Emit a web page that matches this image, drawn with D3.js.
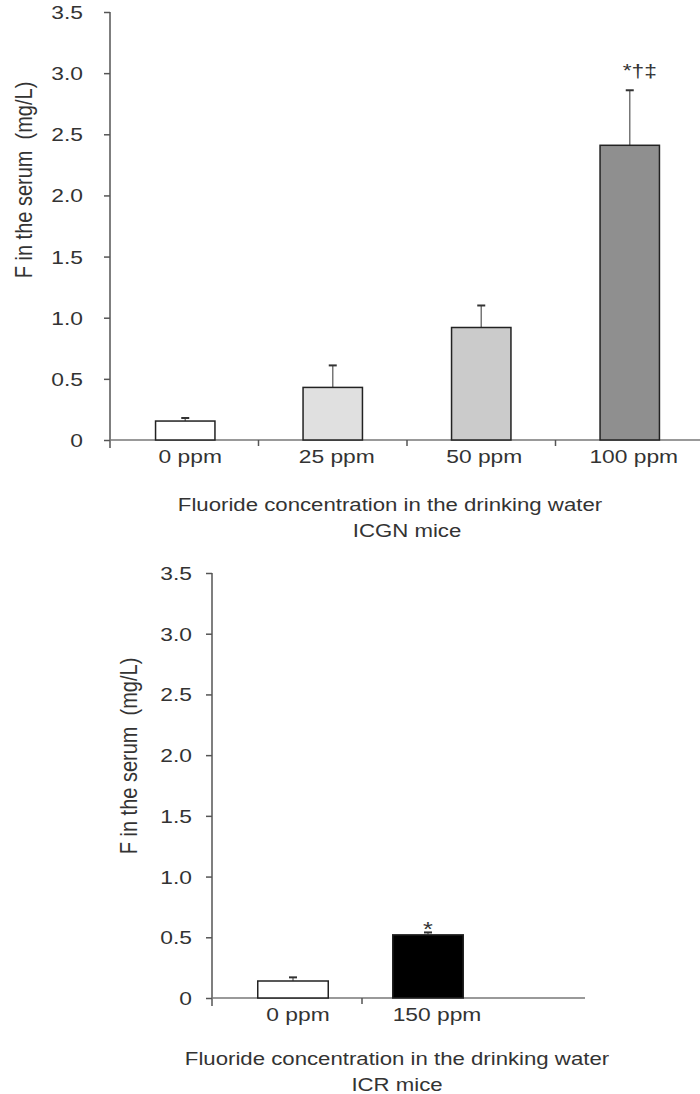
<!DOCTYPE html>
<html>
<head>
<meta charset="utf-8">
<script src="https://cdn.jsdelivr.net/npm/d3@7"></script>
<style>
  body { margin: 0; background: #fff; }
  svg text { font-family: "Liberation Sans", Arial, sans-serif; fill: #333; }
</style>
</head>
<body>
<div id="chart"></div>
<script>
// ICGN mice (top panel)
var icgnDoses = ["0 ppm", "25 ppm", "50 ppm", "100 ppm"];
var icgnMeans = [0.155, 0.43, 0.92, 2.41];
var icgnErrors = [0.025, 0.18, 0.18, 0.45];
var icgnMarks = ["", "", "", "*†‡"];
var icgnFills = ["#ffffff", "#e0e0e0", "#cbcbcb", "#8f8f8f"];

// ICR mice (bottom panel)
var icrDoses = ["0 ppm", "150 ppm"];
var icrMeans = [0.14, 0.52];
var icrErrors = [0.03, 0.02];
var icrMarks = ["", "*"];
var icrFills = ["#ffffff", "#000000"];

var yTicks = [0, 0.5, 1.0, 1.5, 2.0, 2.5, 3.0, 3.5];
var yTitle = "F in the serum  (mg/L)";
var xTitle = "Fluoride concentration in the drinking water";

var SX = 1.2; // the figure is a bit wider than tall, glyphs look stretched

var svg = d3.select("#chart").append("svg")
  .attr("width", 700)
  .attr("height", 1094);

// horizontal text, stretched like the source picture
function label(g, x, y, txt, size, anchor) {
  return g.append("text")
    .attr("transform", "translate(" + x + "," + y + ") scale(" + SX + ",1)")
    .attr("text-anchor", anchor || "middle")
    .style("font-size", size + "px")
    .text(txt);
}

function drawPanel(p) {
  var g = svg.append("g");

  var x = d3.scaleBand().domain(p.cats).range([p.x0, p.x0 + p.band * p.cats.length]);
  var y = d3.scaleLinear().domain([0, 3.5]).range([p.y0, p.y1]);
  var barW = x.bandwidth() * p.barFrac;
  var cx = function(d, i) { return x(d) + x.bandwidth() / 2 + p.barShift[i]; };

  // y axis (ticks only, labels drawn by hand so they can be stretched)
  var yAxis = g.append("g")
    .attr("transform", "translate(" + p.x0 + ",0)")
    .call(d3.axisLeft(y).tickValues(yTicks).tickSize(6).tickFormat(""));
  yAxis.select(".domain").remove();
  yAxis.selectAll(".tick line").attr("stroke", "#555").attr("stroke-width", 1.5);
  yTicks.forEach(function(t) {
    label(g, p.x0 - p.tickPad, y(t) + 7, t === 0 ? "0" : d3.format(".1f")(t), 19, "end");
  });
  g.append("line")
    .attr("x1", p.x0).attr("x2", p.x0)
    .attr("y1", y(3.5)).attr("y2", p.y0 + 8)
    .attr("stroke", "#555").attr("stroke-width", 1.5);

  // x axis line
  g.append("line")
    .attr("x1", p.x0).attr("x2", p.xEnd)
    .attr("y1", p.y0).attr("y2", p.y0)
    .attr("stroke", "#777").attr("stroke-width", 1.5);

  // separators between categories
  g.selectAll(".sep")
    .data(p.cats.slice(1))
    .enter().append("line")
    .attr("x1", function(d) { return x(d); })
    .attr("x2", function(d) { return x(d); })
    .attr("y1", p.y0).attr("y2", p.y0 + 6)
    .attr("stroke", "#555").attr("stroke-width", 1.5);

  // error bars
  g.selectAll(".err")
    .data(p.cats)
    .enter().append("line")
    .attr("x1", cx).attr("x2", cx)
    .attr("y1", function(d, i) { return y(p.means[i]); })
    .attr("y2", function(d, i) { return y(p.means[i] + p.errs[i]); })
    .attr("stroke", "#777").attr("stroke-width", 1.5);
  g.selectAll(".cap")
    .data(p.cats)
    .enter().append("line")
    .attr("x1", function(d, i) { return cx(d, i) - 4; })
    .attr("x2", function(d, i) { return cx(d, i) + 4; })
    .attr("y1", function(d, i) { return y(p.means[i] + p.errs[i]); })
    .attr("y2", function(d, i) { return y(p.means[i] + p.errs[i]); })
    .attr("stroke", "#333").attr("stroke-width", 2);

  // bars
  g.selectAll(".bar")
    .data(p.cats)
    .enter().append("rect")
    .attr("x", function(d, i) { return cx(d, i) - barW / 2; })
    .attr("width", barW)
    .attr("y", function(d, i) { return y(p.means[i]); })
    .attr("height", function(d, i) { return p.y0 - y(p.means[i]); })
    .attr("fill", function(d, i) { return p.fills[i]; })
    .attr("stroke", "#222").attr("stroke-width", 1.5);

  // significance marks + category labels
  p.cats.forEach(function(d, i) {
    if (p.marks[i]) {
      label(g, cx(d, i) + p.markDx, y(p.means[i] + p.errs[i]) - p.markGap, p.marks[i], p.markSize);
    }
    label(g, x(d) + x.bandwidth() / 2 + p.labelShift[i], p.y0 + 23, d, 19);
  });

  // axis titles
  g.append("text")
    .attr("transform", "translate(" + p.yLabelX + "," + p.yLabelY + ") scale(" + SX + ",1) rotate(-90)")
    .attr("text-anchor", "middle")
    .style("font-size", "20px")
    .attr("xml:space", "preserve")
    .text(yTitle);
  label(g, p.titleX, p.titleY, xTitle, 18.5);
  label(g, p.subX, p.titleY + 26, p.subtitle, 18.5);
}

drawPanel({
  cats: icgnDoses, means: icgnMeans, errs: icgnErrors, marks: icgnMarks, fills: icgnFills,
  x0: 110, band: 148.5, xEnd: 700, y0: 440, y1: 12, barFrac: 0.40, tickPad: 27,
  barShift: [1, 0, 0, 0], labelShift: [6, 4, 3, 4],
  markDx: 10, markGap: 13, markSize: 19,
  yLabelX: 32, yLabelY: 180, titleX: 390, titleY: 511, subX: 407, subtitle: "ICGN mice"
});

drawPanel({
  cats: icrDoses, means: icrMeans, errs: icrErrors, marks: icrMarks, fills: icrFills,
  x0: 212, band: 150, xEnd: 585, y0: 998, y1: 573, barFrac: 0.47, tickPad: 20,
  barShift: [6, -9], labelShift: [11, 0],
  markDx: 0, markGap: -4, markSize: 21,
  yLabelX: 137, yLabelY: 756, titleX: 397, titleY: 1065, subX: 397, subtitle: "ICR mice"
});
</script>
</body>
</html>
